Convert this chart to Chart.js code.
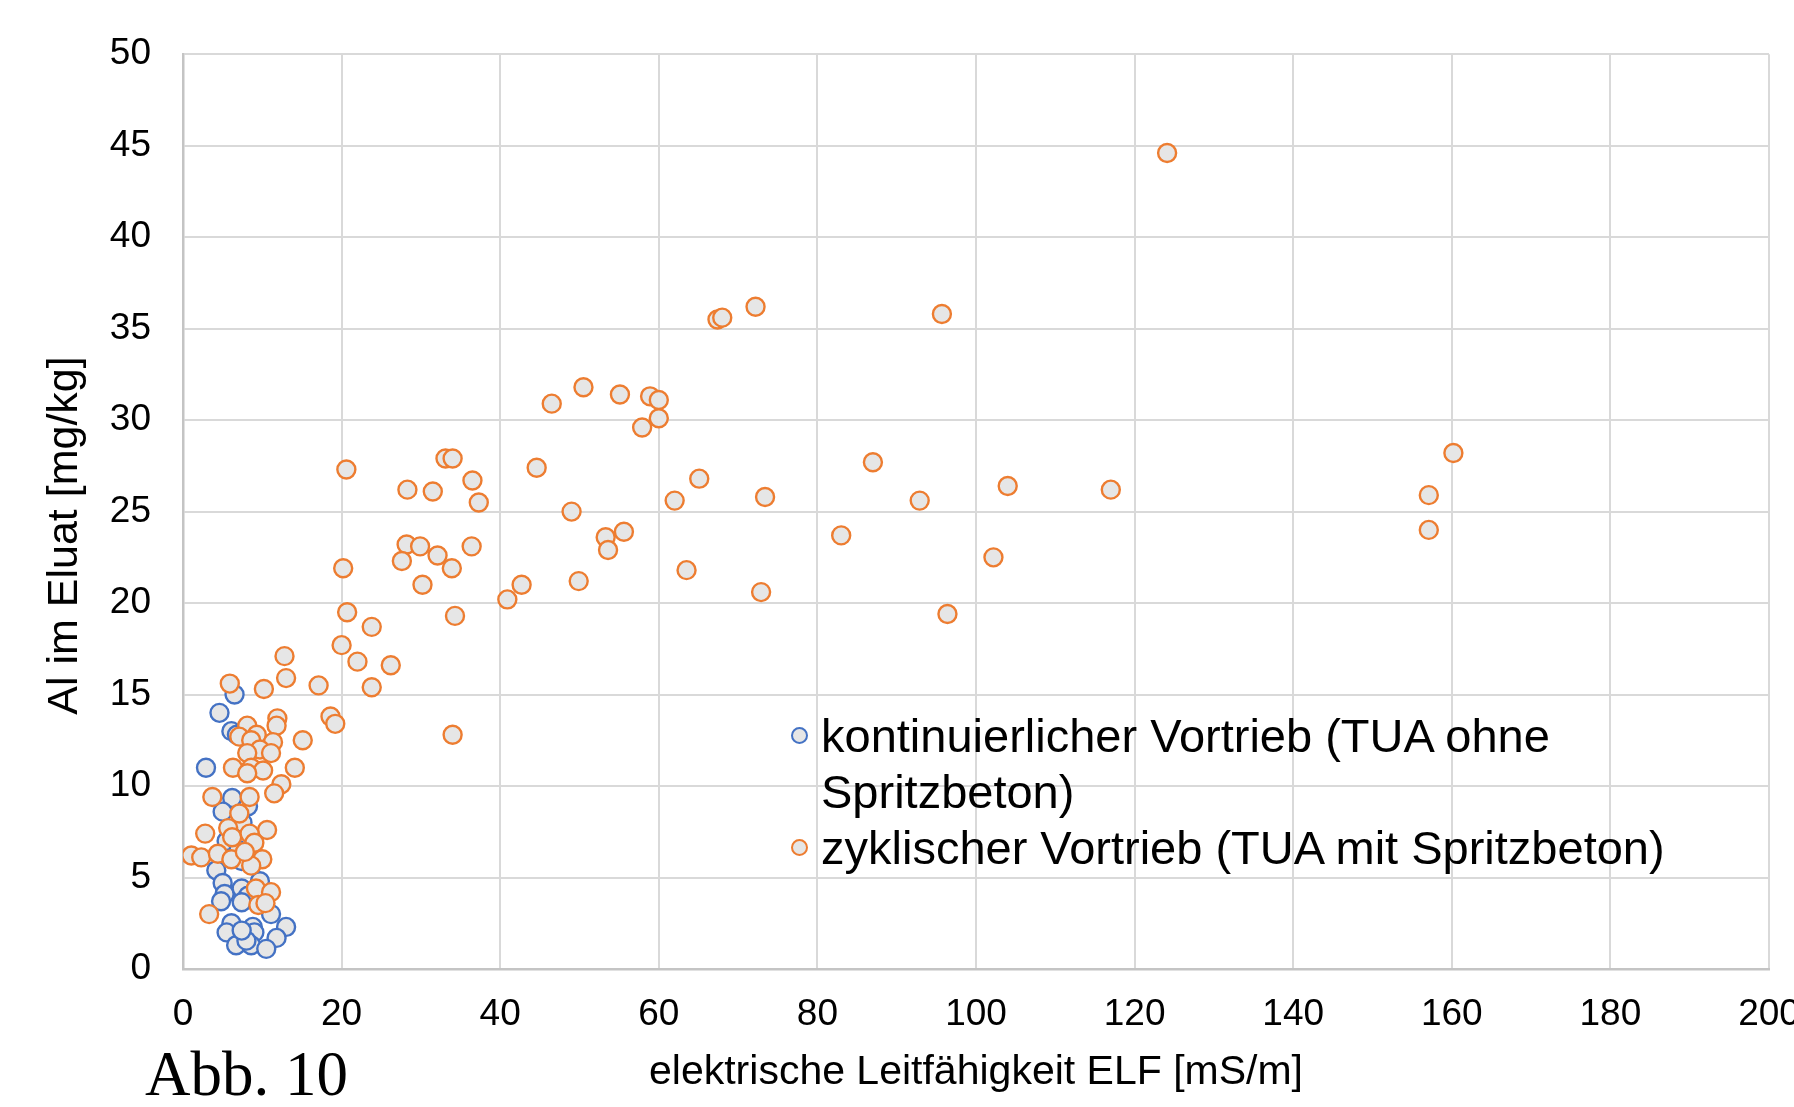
<!DOCTYPE html>
<html><head><meta charset="utf-8">
<script src="https://cdn.jsdelivr.net/npm/chart.js@4.4.0/dist/chart.umd.min.js"></script>
<style>
html,body{margin:0;padding:0;background:#fff;overflow:hidden;width:1794px;height:1107px;}
#wrap{position:absolute;left:0;top:0;width:1830px;height:1107px;}
#legend{position:absolute;left:788px;top:708px;width:920px;font-family:'Liberation Sans',Arial,sans-serif;font-size:47px;line-height:56px;color:#000;}
.item{position:relative;padding-left:33px;}
.mk{position:absolute;left:3px;top:19px;width:13px;height:13px;border-radius:50%;border:2px solid;background:#e6e6e6;}
#abb{position:absolute;left:145px;top:1043px;font-family:'Liberation Serif','Times New Roman',serif;font-size:63px;line-height:63px;color:#000;}
</style></head>
<body>
<div id="wrap"><canvas id="c" width="1830" height="1107"></canvas></div>
<div id="legend"></div>
<div id="abb">Abb. 10</div>
<script>
const seriesNames = ['kontinuierlicher Vortrieb (TUA ohne Spritzbeton)', 'zyklischer Vortrieb (TUA mit Spritzbeton)'];
const seriesColors = ['#4472C4', '#ED7D31'];
const xTitle = 'elektrische Leitfähigkeit ELF [mS/m]';
const yTitle = 'Al im Eluat [mg/kg]    ';
const xTicks = [0, 20, 40, 60, 80, 100, 120, 140, 160, 180, 200];
const yTicks = [0, 5, 10, 15, 20, 25, 30, 35, 40, 45, 50];

const blueX = [6.5, 4.6, 6.1, 6.8, 2.9, 6.2, 5.0, 7.5, 8.2, 5.5, 7.0, 4.2, 5.0, 7.4, 9.7, 5.25, 7.4, 8.2, 4.8, 7.4, 11.1, 13.0, 6.1, 5.5, 8.8, 9.0, 11.8, 6.7, 8.6, 10.5, 8.0, 7.4];
const blueY = [15.0, 14.0, 13.0, 12.8, 11.0, 9.35, 8.6, 8.0, 8.9, 7.0, 6.5, 5.4, 4.7, 5.9, 4.8, 4.1, 4.4, 4.0, 3.7, 3.65, 3.0, 2.3, 2.5, 2.0, 2.3, 2.0, 1.7, 1.3, 1.3, 1.1, 1.55, 2.1];

const orangeX = [124.1, 72.2, 67.4, 68.0, 95.7, 50.5, 46.5, 55.1, 58.9, 60.0, 57.9, 60.0, 160.2, 33.1, 34.0, 20.6, 44.6, 36.5, 65.1, 87.0,
  28.3, 31.5, 37.3, 62.0, 73.4, 92.9, 104.0, 117.0, 157.1, 49.0, 157.1, 55.6, 53.3, 83.0, 28.2, 29.9, 36.4, 32.1, 53.6, 27.6,
  33.9, 20.2, 63.5, 102.2, 42.7, 30.2, 49.9, 40.9, 72.9, 96.4, 20.7, 34.3, 23.8, 20.0, 22.0, 26.2, 12.8, 13.0, 23.8, 17.1,
  10.2, 5.9, 18.6, 19.2, 34.0, 15.1,
  8.1, 11.9, 11.8, 9.3, 7.1, 11.35, 8.6, 9.7, 11.1, 8.1, 6.3, 8.6, 10.1, 8.1, 14.1, 12.4, 11.5, 3.7, 8.4, 7.1,
  2.8, 10.6, 5.7, 6.2, 8.4, 9.0, 1.05, 2.3, 4.4, 6.1, 10.0, 8.6, 7.8, 9.2, 11.1, 9.5, 10.4, 3.3];
const orangeY = [44.6, 36.2, 35.5, 35.6, 35.8, 31.8, 30.9, 31.4, 31.3, 31.1, 29.6, 30.1, 28.2, 27.9, 27.9, 27.3, 27.4, 26.7, 26.8, 27.7,
  26.2, 26.1, 25.5, 25.6, 25.8, 25.6, 26.4, 26.2, 25.9, 25.0, 24.0, 23.9, 23.6, 23.7, 23.2, 23.1, 23.1, 22.6, 22.9, 22.3,
  21.9, 21.9, 21.8, 22.5, 21.0, 21.0, 21.2, 20.2, 20.6, 19.4, 19.5, 19.3, 18.7, 17.7, 16.8, 16.6, 17.1, 15.9, 15.4, 15.5,
  15.3, 15.6, 13.8, 13.4, 12.8, 12.5,
  13.3, 13.7, 13.3, 12.8, 12.7, 12.4, 12.5, 12.0, 11.8, 11.8, 11.0, 11.0, 10.85, 10.7, 11.0, 10.1, 9.6, 9.4, 9.4, 8.5,
  7.4, 7.6, 7.7, 7.2, 7.4, 6.9, 6.2, 6.1, 6.3, 6.0, 6.0, 5.65, 6.4, 4.4, 4.2, 3.5, 3.6, 3.0];

const fillColor = '#E6E6E6';
const fontFamily = "'Liberation Sans', Arial, sans-serif";

function pts(xs, ys) { return xs.map((x, i) => ({ x: x, y: ys[i] })); }

new Chart(document.getElementById('c'), {
  type: 'scatter',
  data: {
    datasets: [
      { label: seriesNames[0], data: pts(blueX, blueY), borderColor: seriesColors[0], backgroundColor: fillColor,
        pointRadius: 9, pointHoverRadius: 9, pointBorderWidth: 2.4, order: 1 },
      { label: seriesNames[1], data: pts(orangeX, orangeY), borderColor: seriesColors[1], backgroundColor: fillColor,
        pointRadius: 9, pointHoverRadius: 9, pointBorderWidth: 2.4, order: 0 }
    ]
  },
  options: {
    responsive: false, animation: false, devicePixelRatio: 1,
    layout: { padding: { top: 54, right: 61, bottom: 0, left: 0 } },
    plugins: { legend: { display: false }, tooltip: { enabled: false } },
    scales: {
      x: {
        type: 'linear', min: 0, max: 200,
        afterBuildTicks: s => { s.ticks = xTicks.map(v => ({ value: v })); },
        afterFit: s => { s.height = 138; },
        grid: { color: '#d9d9d9', lineWidth: 2, drawTicks: false },
        border: { color: '#c4c4c4', width: 2.5 },
        ticks: { padding: 24, color: '#000', maxRotation: 0, autoSkip: false, font: { family: fontFamily, size: 37 } },
        title: { display: true, text: xTitle, color: '#000', font: { family: fontFamily, size: 41 }, padding: { top: 0, bottom: 10 } }
      },
      y: {
        type: 'linear', min: 0, max: 50,
        afterBuildTicks: s => { s.ticks = yTicks.map(v => ({ value: v })); },
        afterFit: s => { s.width = 183; },
        grid: { color: '#d9d9d9', lineWidth: 2, drawTicks: false },
        border: { color: '#c4c4c4', width: 2.5 },
        ticks: { padding: 32, color: '#000', autoSkip: false, font: { family: fontFamily, size: 37 } },
        title: { display: true, text: yTitle, color: '#000', font: { family: fontFamily, size: 43 }, padding: { top: 39, bottom: 0 } }
      }
    }
  }
});

const lg = document.getElementById('legend');
seriesNames.forEach((n, i) => {
  const d = document.createElement('div');
  d.className = 'item';
  const m = document.createElement('span');
  m.className = 'mk';
  m.style.borderColor = seriesColors[i];
  d.appendChild(m);
  d.appendChild(document.createTextNode(n));
  lg.appendChild(d);
});
</script>
</body></html>
